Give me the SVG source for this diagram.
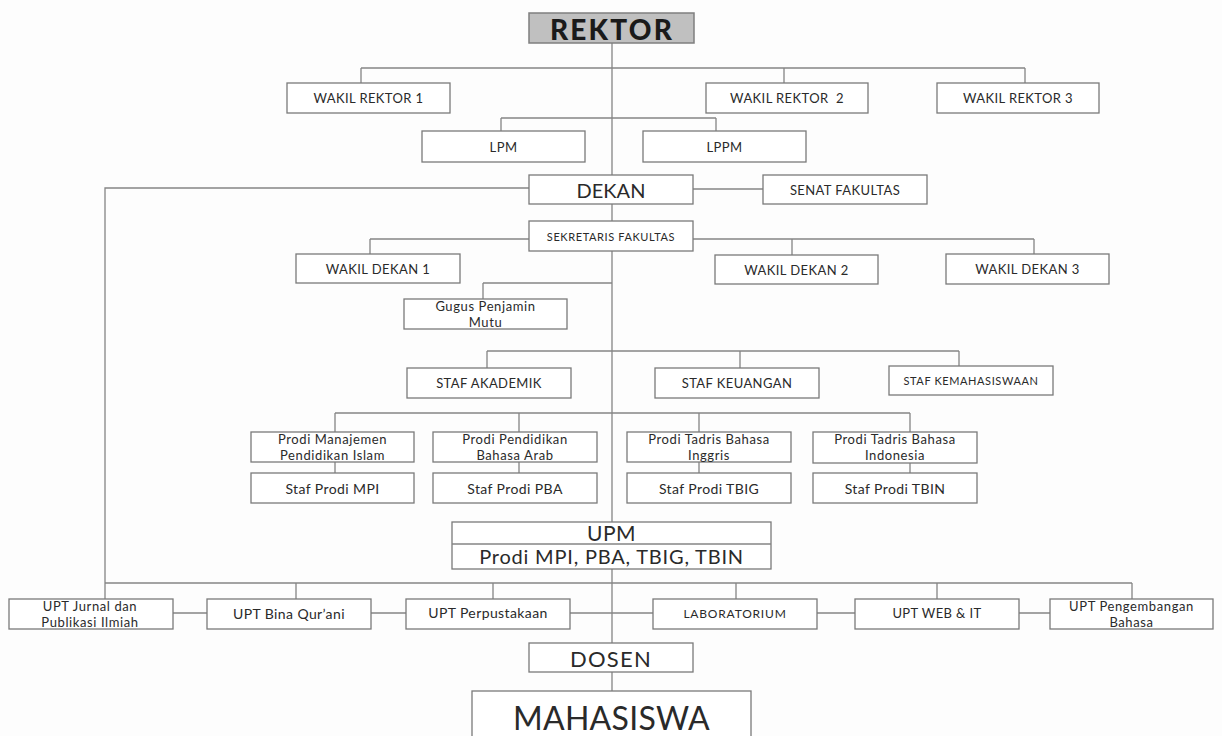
<svg xmlns="http://www.w3.org/2000/svg" width="1222" height="736" viewBox="0 0 1222 736">
<style>
.box{fill:#fff;stroke:#7a7a7a;stroke-width:1.3}
.ln{stroke:#858585;stroke-width:1.3;fill:none}
text{font-family:Lato,"Liberation Sans",sans-serif;fill:#2a2a2a;text-anchor:middle;dominant-baseline:central}
.c{font-size:13px;letter-spacing:0.4px}
.cs{font-size:11px;letter-spacing:0.6px}
.t{font-size:14px;letter-spacing:0.4px}
.t2{font-size:13px;letter-spacing:0.6px}
</style>
<rect width="1222" height="736" fill="#fdfdfd"/>
<g id="connectors">
<path class="ln" d="M612 43V691"/>
<path class="ln" d="M361 68H1025M361 68V83M784 68V83M1025 68V83"/>
<path class="ln" d="M501 118H716M501 118V131M716 118V131"/>
<path class="ln" d="M529 188H105V599"/>
<path class="ln" d="M693 189H763"/>
<path class="ln" d="M370 239H1034M370 239V254M792 239V255M1034 239V254"/>
<path class="ln" d="M483 283H612M483 283V299"/>
<path class="ln" d="M487 351H959M487 351V368M740 351V368M959 351V366"/>
<path class="ln" d="M335 413H910M335 413V432M519 413V432M699 413V432M910 413V432"/>
<path class="ln" d="M335 462V473M519 462V473M699 462V473M910 462V473"/>
<path class="ln" d="M105 583H1132M296 583V599M493 583V599M736 583V599M937 583V599M1132 583V599"/>
<path class="ln" d="M173 613H207M371 613H406M570 613H653M817 613H855M1019 613H1050"/>
</g>
<g id="rektor"><rect x="529" y="13" width="165" height="30" fill="#c0c0c0" stroke="#7f7f7f" stroke-width="1.5"/><text x="612" y="29" style="font-size:28px;font-weight:900;letter-spacing:2.2px;fill:#1a1a1a">REKTOR</text></g>
<g id="wr1"><rect class="box" x="287" y="83" width="163" height="30"/><text class="c" x="368.5" y="98">WAKIL REKTOR 1</text></g>
<g id="wr2"><rect class="box" x="706" y="83" width="162" height="30"/><text class="c" x="787" y="98" style="white-space:pre">WAKIL REKTOR  2</text></g>
<g id="wr3"><rect class="box" x="937" y="83" width="162" height="30"/><text class="c" x="1018" y="98">WAKIL REKTOR 3</text></g>
<g id="lpm"><rect class="box" x="422" y="131" width="163" height="31"/><text class="c" x="503.5" y="146.5">LPM</text></g>
<g id="lppm"><rect class="box" x="643" y="131" width="163" height="31"/><text class="c" x="724.5" y="146.5">LPPM</text></g>
<g id="dekan"><rect class="box" x="529" y="175" width="164" height="29"/><text x="611" y="190" style="font-size:20px">DEKAN</text></g>
<g id="senat"><rect class="box" x="763" y="175" width="164" height="29"/><text class="c" x="845" y="189.5">SENAT FAKULTAS</text></g>
<g id="sekretaris"><rect class="box" x="529" y="221" width="164" height="30"/><text class="cs" x="611" y="236">SEKRETARIS FAKULTAS</text></g>
<g id="wd1"><rect class="box" x="296" y="254" width="164" height="29"/><text class="c" x="378" y="268.5">WAKIL DEKAN 1</text></g>
<g id="wd2"><rect class="box" x="715" y="255" width="163" height="29"/><text class="c" x="796.5" y="269.5">WAKIL DEKAN 2</text></g>
<g id="wd3"><rect class="box" x="946" y="254" width="163" height="30"/><text class="c" x="1027.5" y="269">WAKIL DEKAN 3</text></g>
<g id="gugus"><rect class="box" x="404" y="299" width="163" height="30"/><text class="t2" x="485.5" y="306">Gugus Penjamin</text><text class="t2" x="485.5" y="322">Mutu</text></g>
<g id="staf-akademik"><rect class="box" x="407" y="368" width="164" height="30"/><text class="c" x="489" y="383">STAF AKADEMIK</text></g>
<g id="staf-keuangan"><rect class="box" x="655" y="368" width="164" height="30"/><text class="c" x="737" y="383">STAF KEUANGAN</text></g>
<g id="staf-kemahasiswaan"><rect class="box" x="889" y="366" width="164" height="29"/><text class="cs" x="971" y="380.5">STAF KEMAHASISWAAN</text></g>
<g id="prodi-mpi"><rect class="box" x="251" y="432" width="163" height="30"/><text class="t2" x="332.5" y="439">Prodi Manajemen</text><text class="t2" x="332.5" y="455">Pendidikan Islam</text></g>
<g id="prodi-pba"><rect class="box" x="433" y="432" width="164" height="30"/><text class="t2" x="515" y="439">Prodi Pendidikan</text><text class="t2" x="515" y="455">Bahasa Arab</text></g>
<g id="prodi-tbig"><rect class="box" x="627" y="432" width="164" height="30"/><text class="t2" x="709" y="439">Prodi Tadris Bahasa</text><text class="t2" x="709" y="455">Inggris</text></g>
<g id="prodi-tbin"><rect class="box" x="813" y="432" width="164" height="31"/><text class="t2" x="895" y="439">Prodi Tadris Bahasa</text><text class="t2" x="895" y="455">Indonesia</text></g>
<g id="staf-mpi"><rect class="box" x="251" y="473" width="163" height="30"/><text class="t" x="332.5" y="488">Staf Prodi MPI</text></g>
<g id="staf-pba"><rect class="box" x="433" y="473" width="164" height="30"/><text class="t" x="515" y="488">Staf Prodi PBA</text></g>
<g id="staf-tbig"><rect class="box" x="627" y="473" width="164" height="30"/><text class="t" x="709" y="488">Staf Prodi TBIG</text></g>
<g id="staf-tbin"><rect class="box" x="813" y="473" width="164" height="30"/><text class="t" x="895" y="488">Staf Prodi TBIN</text></g>
<g id="upm"><rect class="box" x="452" y="522" width="319" height="47"/><path class="ln" d="M452 544H771"/><text x="611.5" y="532" style="font-size:21px;letter-spacing:0.5px">UPM</text><text x="611.5" y="556" style="font-size:20px;letter-spacing:0.8px">Prodi MPI, PBA, TBIG, TBIN</text></g>
<g id="upt-jurnal"><rect class="box" x="9" y="599" width="164" height="30"/><text class="t2" x="90" y="606">UPT Jurnal dan</text><text class="t2" x="90" y="622">Publikasi Ilmiah</text></g>
<g id="upt-bina"><rect class="box" x="207" y="599" width="164" height="30"/><text class="t" x="289" y="613">UPT Bina Qur’ani</text></g>
<g id="upt-perpustakaan"><rect class="box" x="406" y="599" width="164" height="30"/><text class="t" x="488" y="612">UPT Perpustakaan</text></g>
<g id="laboratorium"><rect class="box" x="653" y="599" width="164" height="30"/><text x="735" y="613" style="font-size:12px;letter-spacing:0.8px">LABORATORIUM</text></g>
<g id="upt-web"><rect class="box" x="855" y="599" width="164" height="30"/><text class="c" x="937" y="613">UPT WEB &amp; IT</text></g>
<g id="upt-bahasa"><rect class="box" x="1050" y="599" width="163" height="30"/><text class="t2" x="1131.5" y="606">UPT Pengembangan</text><text class="t2" x="1131.5" y="622">Bahasa</text></g>
<g id="dosen"><rect class="box" x="529" y="643" width="164" height="29"/><text x="611" y="658" style="font-size:22px;letter-spacing:1.2px">DOSEN</text></g>
<g id="mahasiswa"><rect class="box" x="472" y="691" width="279" height="50"/><text x="611.5" y="717" style="font-size:32px;letter-spacing:0.3px">MAHASISWA</text></g>
</svg>
